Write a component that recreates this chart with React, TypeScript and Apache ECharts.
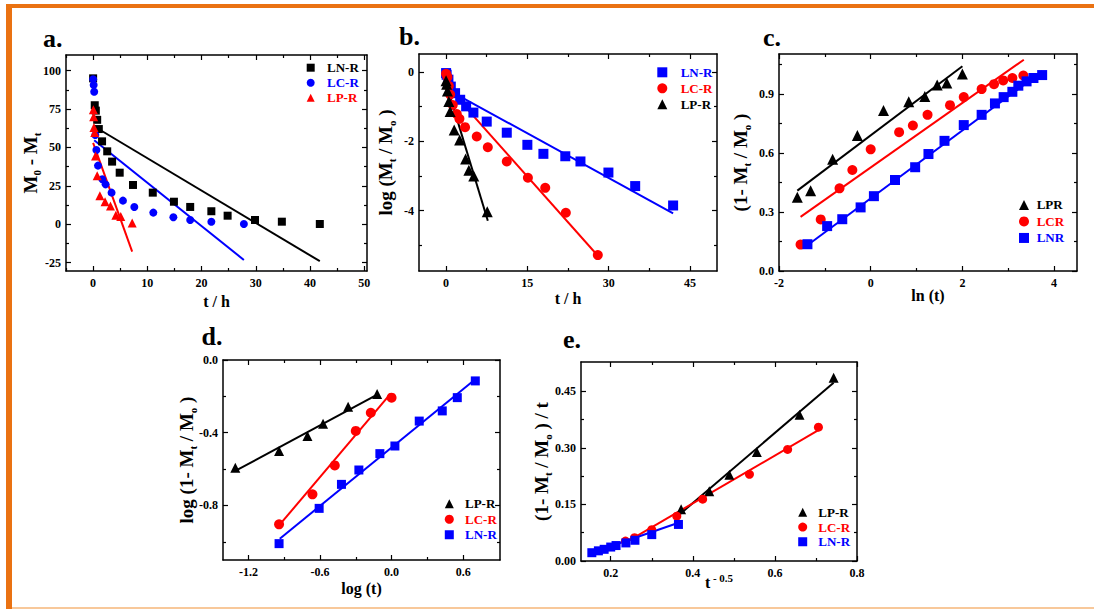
import React, { useEffect, useRef } from "react";
import * as echarts from "echarts";

const FONT = "'Liberation Serif', 'Times New Roman', serif";
const BLACK = "#000000";
const BLUE = "#0000ff";
const RED = "#ff0000";

// ---------- panel a : M0 - Mt vs t ----------
const aLNt = [0, 0.3, 0.5, 0.75, 1.05, 1.65, 2.6, 3.5, 4.9, 7.35, 11, 14.9, 17.9, 21.8, 24.8, 29.85, 34.8, 41.8];
const aLNv = [95, 77.5, 74, 68, 62, 54, 47.5, 40.8, 33.6, 25.6, 20.6, 14.7, 11.3, 8.5, 5.6, 2.8, 1.7, 0.2];
const aLCt = [0, 0.1, 0.2, 0.4, 0.6, 0.9, 1.7, 2.3, 3.4, 5.5, 7.6, 11.1, 14.8, 17.9, 21.8, 27.8];
const aLCv = [94.4, 90.7, 86.3, 58.1, 48.4, 38.2, 29.3, 26, 20.6, 15.4, 11.3, 7.6, 4.6, 2.8, 1.7, 0.2];
const aLPt = [0.05, 0.1, 0.15, 0.3, 0.45, 0.75, 1.25, 2.2, 3.2, 4.2, 5.1, 7.2];
const aLPv = [74.5, 70, 63, 59.8, 44.5, 31.6, 18.6, 14.7, 11.9, 5.9, 5, 0.8];
const aLNfitT = [0.3, 41.8];
const aLNfitV = [63.5, -24];
const aLCfitT = [0.2, 27.8];
const aLCfitV = [54.7, -23.2];
const aLPfitT = [0, 7.2];
const aLPfitV = [53, -17.8];
const aXTicks = [0, 10, 20, 30, 40, 50];
const aXMinor = [-5, 5, 15, 25, 35, 45];
const aYTicks = [-25, 0, 25, 50, 75, 100];
const aYMinor = [-12.5, 12.5, 37.5, 62.5, 87.5];

// ---------- panel b : log(Mt/M0) vs t ----------
const bLNt = [0, 0.1, 0.43, 0.87, 1.66, 2.6, 3.7, 5.04, 7.5, 11.2, 15, 17.96, 22, 24.8, 29.96, 34.9, 41.9];
const bLNv = [-0.03, -0.08, -0.22, -0.42, -0.61, -0.8, -0.99, -1.17, -1.43, -1.75, -2.1, -2.36, -2.43, -2.58, -2.9, -3.29, -3.85];
const bLCt = [0, 0.25, 0.5, 0.75, 1.23, 1.97, 2.46, 3.5, 5.66, 7.7, 11.2, 15.1, 18.3, 22.1, 28];
const bLCv = [-0.05, -0.14, -0.4, -0.65, -0.95, -1.21, -1.35, -1.59, -1.86, -2.17, -2.58, -3.05, -3.34, -4.06, -5.28];
const bLPt = [0, 0.1, 0.25, 0.5, 0.75, 1.5, 2.5, 3.6, 4.2, 5.1, 7.6];
const bLPv = [-0.25, -0.35, -0.55, -0.85, -1.14, -1.67, -1.96, -2.51, -2.83, -3.0, -4.03];
const bLNfitT = [0.1, 41.9];
const bLNfitV = [-0.49, -4.08];
const bLCfitT = [0.1, 28];
const bLCfitV = [-0.4, -5.3];
const bLPfitT = [0.1, 7.7];
const bLPfitV = [-0.37, -4.29];
const bXTicks = [0, 15, 30, 45];
const bXMinor = [7.5, 22.5, 37.5];
const bYTicks = [-4, -2, 0];
const bYMinor = [-5, -3, -1];

// ---------- panel c : (1 - Mt/M0) vs ln(t) ----------
const cLPx = [-1.6, -1.31, -0.83, -0.29, 0.28, 0.83, 1.18, 1.45, 1.66, 2.0];
const cLPy = [0.374, 0.408, 0.567, 0.688, 0.815, 0.859, 0.886, 0.944, 0.955, 1.0];
const cLCx = [-1.53, -1.09, -0.68, -0.4, 0, 0.62, 0.92, 1.24, 1.73, 2.03, 2.42, 2.69, 2.89, 3.09, 3.33];
const cLCy = [0.134, 0.262, 0.42, 0.513, 0.618, 0.705, 0.739, 0.793, 0.842, 0.883, 0.924, 0.949, 0.968, 0.98, 0.993];
const cLNx = [-1.38, -0.95, -0.62, -0.22, 0.07, 0.53, 0.97, 1.26, 1.61, 2.03, 2.42, 2.71, 2.9, 3.09, 3.22, 3.4, 3.55, 3.74];
const cLNy = [0.136, 0.228, 0.263, 0.323, 0.38, 0.462, 0.527, 0.594, 0.661, 0.741, 0.793, 0.851, 0.883, 0.91, 0.941, 0.963, 0.98, 0.995];
const cLPfitX = [-1.6, 2.0];
const cLPfitY = [0.408, 1.04];
const cLCfitX = [-1.53, 3.34];
const cLCfitY = [0.275, 1.073];
const cLNfitX = [-1.41, 3.74];
const cLNfitY = [0.126, 1.014];
const cXTicks = [-2, 0, 2, 4];
const cXMinor = [-1, 1, 3];
const cYTicks = [0, 0.3, 0.6, 0.9];
const cYMinor = [0.15, 0.45, 0.75, 1.05];

// ---------- panel d : log(1 - Mt/M0) vs log(t) ----------
const dLPx = [-1.31, -0.943, -0.705, -0.574, -0.364, -0.121];
const dLPy = [-0.592, -0.501, -0.418, -0.35, -0.257, -0.187];
const dLCx = [-0.943, -0.663, -0.476, -0.3, -0.174, 0];
const dLCy = [-0.904, -0.739, -0.58, -0.39, -0.29, -0.207];
const dLNx = [-0.943, -0.607, -0.42, -0.274, -0.098, 0.028, 0.232, 0.425, 0.551, 0.702];
const dLNy = [-1.01, -0.816, -0.684, -0.605, -0.515, -0.473, -0.336, -0.28, -0.207, -0.115];
const dLPfitX = [-1.31, -0.12];
const dLPfitY = [-0.61, -0.19];
const dLCfitX = [-0.943, -0.006];
const dLCfitY = [-0.91, -0.183];
const dLNfitX = [-0.937, 0.702];
const dLNfitY = [-0.983, -0.106];
const dXTicks = [-1.2, -0.6, 0, 0.6];
const dXMinor = [-0.9, -0.3, 0.3];
const dYTicks = [-0.8, -0.4, 0];
const dYMinor = [-1.0, -0.6, -0.2];

// ---------- panel e : (1 - Mt/M0)/t vs t^-0.5 ----------
const eLPx = [0.3715, 0.44, 0.489, 0.556, 0.66, 0.743];
const eLPy = [0.137, 0.185, 0.229, 0.289, 0.388, 0.486];
const eLCx = [0.236, 0.258, 0.3, 0.361, 0.424, 0.538, 0.631, 0.706];
const eLCy = [0.053, 0.062, 0.083, 0.119, 0.164, 0.23, 0.296, 0.355];
const eLNx = [0.154, 0.17, 0.184, 0.2, 0.213, 0.237, 0.259, 0.3, 0.365];
const eLNy = [0.022, 0.027, 0.031, 0.037, 0.041, 0.048, 0.055, 0.07, 0.097];
const eLPfitX = [0.367, 0.743];
const eLPfitY = [0.123, 0.473];
const eLCfitX = [0.236, 0.706];
const eLCfitY = [0.049, 0.347];
const eLNfitX = [0.154, 0.367];
const eLNfitY = [0.022, 0.102];
const eXTicks = [0.2, 0.4, 0.6, 0.8];
const eXMinor = [0.3, 0.5, 0.7];
const eYTicks = [0, 0.15, 0.3, 0.45];
const eYMinor = [0.075, 0.225, 0.375];

function zip(xs: number[], ys: number[]) {
  return xs.map((x, i) => [x, ys[i]]);
}

const subRich = {
  s: { fontSize: 11, fontWeight: "bold", fontFamily: FONT, color: "#000", verticalAlign: "bottom", lineHeight: 11 },
  p: { fontSize: 11, fontWeight: "bold", fontFamily: FONT, color: "#000", verticalAlign: "top", lineHeight: 11 },
};

type AxisCfg = { min: number; max: number; majors: number[]; minors: number[]; dec: number; name: string; nameGap: number; nameSize: number; margin: number };

function buildAxes(dim: "x" | "y", gi: number, cfg: AxisCfg) {
  const pos = dim === "x" ? ["bottom", "bottom", "top", "top"] : ["left", "left", "right", "right"];
  const base: any = {
    type: "value",
    gridIndex: gi,
    min: cfg.min,
    max: cfg.max,
    splitLine: { show: false },
    nameMoveOverlap: false,
  };
  const line = { show: true, onZero: false, lineStyle: { color: "#000", width: 1.5 } };
  const tickStyle = { color: "#000", width: 1.2 };
  const noLine = { show: false, onZero: false };
  return [
    {
      ...base,
      position: pos[0],
      axisLine: line,
      axisTick: { show: true, inside: true, length: 5, customValues: cfg.majors, lineStyle: tickStyle },
      axisLabel: {
        show: true,
        customValues: cfg.majors,
        formatter: (v: number) => (Math.abs(v) < 1e-9 ? 0 : v).toFixed(cfg.dec),
        margin: cfg.margin,
        fontFamily: FONT,
        fontWeight: "bold",
        fontSize: 12,
        color: "#000",
      },
      name: cfg.name,
      nameLocation: "middle",
      nameGap: cfg.nameGap,
      nameTextStyle: {
        fontFamily: FONT,
        fontWeight: "bold",
        fontSize: cfg.nameSize,
        color: "#000",
        lineHeight: cfg.nameSize + 4,
        rich: subRich,
      },
    },
    {
      ...base,
      position: pos[1],
      axisLine: noLine,
      axisTick: { show: true, inside: true, length: 3, customValues: cfg.minors, lineStyle: tickStyle },
      axisLabel: { show: false },
    },
    {
      ...base,
      position: pos[2],
      axisLine: line,
      axisTick: { show: true, inside: true, length: 5, customValues: cfg.majors, lineStyle: tickStyle },
      axisLabel: { show: false },
    },
    {
      ...base,
      position: pos[3],
      axisLine: noLine,
      axisTick: { show: true, inside: true, length: 3, customValues: cfg.minors, lineStyle: tickStyle },
      axisLabel: { show: false },
    },
  ];
}

type SeriesCfg = { name: string; color: string; symbol: string; size: number; xs: number[]; ys: number[]; fx: number[]; fy: number[] };

type PanelCfg = {
  id: string;
  grid: { left: number; top: number; width: number; height: number };
  x: AxisCfg;
  y: AxisCfg;
  series: SeriesCfg[];
  legend: { cx: number; top: number; icon: number; textX: number; rowH: number };
  label: { x: number; y: number };
};

const panels: PanelCfg[] = [
  {
    id: "a",
    grid: { left: 66, top: 55, width: 301, height: 216 },
    x: { min: -5, max: 50.5, majors: aXTicks, minors: aXMinor, dec: 0, name: "t / h", nameGap: 20, nameSize: 16, margin: 6 },
    y: { min: -30.4, max: 110.2, majors: aYTicks, minors: aYMinor, dec: 0, name: "M{s|0} - M{s|t}", nameGap: 24, nameSize: 19, margin: 5 },
    series: [
      { name: "LN-R", color: BLACK, symbol: "rect", size: 8, xs: aLNt, ys: aLNv, fx: aLNfitT, fy: aLNfitV },
      { name: "LC-R", color: BLUE, symbol: "circle", size: 8, xs: aLCt, ys: aLCv, fx: aLCfitT, fy: aLCfitV },
      { name: "LP-R", color: RED, symbol: "triangle", size: 9, xs: aLPt, ys: aLPv, fx: aLPfitT, fy: aLPfitV },
    ],
    legend: { cx: 310.7, top: 60.2, icon: 8, textX: 327, rowH: 15 },
    label: { x: 43, y: 38 },
  },
  {
    id: "b",
    grid: { left: 419, top: 54, width: 298, height: 217 },
    x: { min: -5, max: 50, majors: bXTicks, minors: bXMinor, dec: 0, name: "t / h", nameGap: 17, nameSize: 16, margin: 6 },
    y: { min: -5.74, max: 0.52, majors: bYTicks, minors: bYMinor, dec: 0, name: "log (M{s|t} / M{s|o} )", nameGap: 22, nameSize: 19, margin: 5 },
    series: [
      { name: "LN-R", color: BLUE, symbol: "rect", size: 10, xs: bLNt, ys: bLNv, fx: bLNfitT, fy: bLNfitV },
      { name: "LC-R", color: RED, symbol: "circle", size: 10, xs: bLCt, ys: bLCv, fx: bLCfitT, fy: bLCfitV },
      { name: "LP-R", color: BLACK, symbol: "triangle", size: 11, xs: bLPt, ys: bLPv, fx: bLPfitT, fy: bLPfitV },
    ],
    legend: { cx: 662.3, top: 64.3, icon: 10, textX: 680.7, rowH: 16 },
    label: { x: 399, y: 36 },
  },
  {
    id: "c",
    grid: { left: 779, top: 54, width: 298, height: 217 },
    x: { min: -2, max: 4.5, majors: cXTicks, minors: cXMinor, dec: 0, name: "ln (t)", nameGap: 14, nameSize: 16, margin: 6 },
    y: { min: 0, max: 1.102, majors: cYTicks, minors: cYMinor, dec: 1, name: "(1- M{s|t} / M{s|o} )", nameGap: 27, nameSize: 19, margin: 5 },
    series: [
      { name: "LPR", color: BLACK, symbol: "triangle", size: 11, xs: cLPx, ys: cLPy, fx: cLPfitX, fy: cLPfitY },
      { name: "LCR", color: RED, symbol: "circle", size: 10, xs: cLCx, ys: cLCy, fx: cLCfitX, fy: cLCfitY },
      { name: "LNR", color: BLUE, symbol: "rect", size: 10, xs: cLNx, ys: cLNy, fx: cLNfitX, fy: cLNfitY },
    ],
    legend: { cx: 1024, top: 196.7, icon: 10, textX: 1036.7, rowH: 16.5 },
    label: { x: 763, y: 37 },
  },
  {
    id: "d",
    grid: { left: 223, top: 360, width: 277, height: 200 },
    x: { min: -1.413, max: 0.909, majors: dXTicks, minors: dXMinor, dec: 1, name: "log (t)", nameGap: 18, nameSize: 16, margin: 6 },
    y: { min: -1.1, max: 0, majors: dYTicks, minors: dYMinor, dec: 1, name: "log (1- M{s|t} / M{s|o} )", nameGap: 25, nameSize: 19, margin: 5 },
    series: [
      { name: "LP-R", color: BLACK, symbol: "triangle", size: 10, xs: dLPx, ys: dLPy, fx: dLPfitX, fy: dLPfitY },
      { name: "LC-R", color: RED, symbol: "circle", size: 10, xs: dLCx, ys: dLCy, fx: dLCfitX, fy: dLCfitY },
      { name: "LN-R", color: BLUE, symbol: "rect", size: 9, xs: dLNx, ys: dLNy, fx: dLNfitX, fy: dLNfitY },
    ],
    legend: { cx: 449.3, top: 496, icon: 9, textX: 465, rowH: 15.5 },
    label: { x: 201.5, y: 336 },
  },
  {
    id: "e",
    grid: { left: 581, top: 362, width: 276, height: 199 },
    x: { min: 0.1276, max: 0.8, majors: eXTicks, minors: eXMinor, dec: 1, name: "t{p| - 0.5}", nameGap: 11, nameSize: 16, margin: 6 },
    y: { min: 0, max: 0.528, majors: eYTicks, minors: eYMinor, dec: 2, name: "(1- M{s|t} / M{s|o} ) / t", nameGap: 28, nameSize: 19, margin: 5 },
    series: [
      { name: "LP-R", color: BLACK, symbol: "triangle", size: 10, xs: eLPx, ys: eLPy, fx: eLPfitX, fy: eLPfitY },
      { name: "LC-R", color: RED, symbol: "circle", size: 9, xs: eLCx, ys: eLCy, fx: eLCfitX, fy: eLCfitY },
      { name: "LN-R", color: BLUE, symbol: "rect", size: 9, xs: eLNx, ys: eLNy, fx: eLNfitX, fy: eLNfitY },
    ],
    legend: { cx: 802.7, top: 505, icon: 9, textX: 818.3, rowH: 14.7 },
    label: { x: 563, y: 339 },
  },
];

function buildOption() {
  const grids: any[] = [];
  const xAxes: any[] = [];
  const yAxes: any[] = [];
  const series: any[] = [];
  const legends: any[] = [];
  const graphics: any[] = [
    { type: "rect", shape: { x: 6, y: 4, width: 1088, height: 4 }, style: { fill: "#ea7212" }, z: 100 },
    { type: "rect", shape: { x: 6, y: 4, width: 6, height: 605 }, style: { fill: "#ea7212" }, z: 100 },
    { type: "rect", shape: { x: 12, y: 607, width: 1082, height: 2 }, style: { fill: "#f8c89a" }, z: 100 },
  ];

  panels.forEach((p, gi) => {
    grids.push({ ...p.grid, containLabel: false, outerBoundsMode: "none" });
    xAxes.push(...buildAxes("x", gi, p.x));
    yAxes.push(...buildAxes("y", gi, p.y));
    const xi = gi * 4;
    const yi = gi * 4;
    p.series.forEach((s) => {
      series.push({
        type: "line",
        name: `${p.id}fit|${s.name}`,
        xAxisIndex: xi,
        yAxisIndex: yi,
        data: zip(s.fx, s.fy),
        showSymbol: false,
        symbol: "none",
        lineStyle: { color: s.color, width: 2 },
        itemStyle: { color: s.color },
        silent: true,
        z: 2,
      });
    });
    p.series.forEach((s) => {
      series.push({
        type: "scatter",
        name: `${p.id}|${s.name}`,
        xAxisIndex: xi,
        yAxisIndex: yi,
        data: zip(s.xs, s.ys),
        symbol: s.symbol,
        symbolSize: s.size,
        itemStyle: { color: s.color, opacity: 1 },
        z: 3,
      });
    });
    const L = p.legend;
    const left = L.cx - L.icon / 2;
    const pad = Math.max(0, L.textX - (left + L.icon + 5));
    legends.push({
      orient: "vertical",
      left,
      top: L.top,
      itemWidth: L.icon,
      itemHeight: L.icon,
      itemGap: 0,
      padding: 0,
      selectedMode: false,
      data: p.series.map((s) => ({ name: `${p.id}|${s.name}`, textStyle: { color: s.color } })),
      formatter: (n: string) => n.split("|")[1],
      textStyle: { fontFamily: FONT, fontWeight: "bold", fontSize: 13, lineHeight: L.rowH, padding: [0, 0, 0, pad] },
    });
    graphics.push({
      type: "text",
      x: p.label.x,
      y: p.label.y,
      style: { text: `${p.id}.`, font: `bold 26px ${FONT}`, fill: "#000", verticalAlign: "middle", align: "left" },
      z: 100,
    });
  });

  return {
    animation: false,
    backgroundColor: "#ffffff",
    grid: grids,
    xAxis: xAxes,
    yAxis: yAxes,
    series,
    legend: legends,
    graphic: graphics,
  };
}

export default function App() {
  const ref = useRef<HTMLDivElement>(null);
  useEffect(() => {
    if (!ref.current) return;
    const chart = echarts.init(ref.current, undefined, { renderer: "svg" });
    chart.setOption(buildOption() as any);
    return () => chart.dispose();
  }, []);
  return (
    <div
      ref={ref}
      style={{ position: "absolute", left: 0, top: 0, width: 1094, height: 609, background: "#fff" }}
    />
  );
}
